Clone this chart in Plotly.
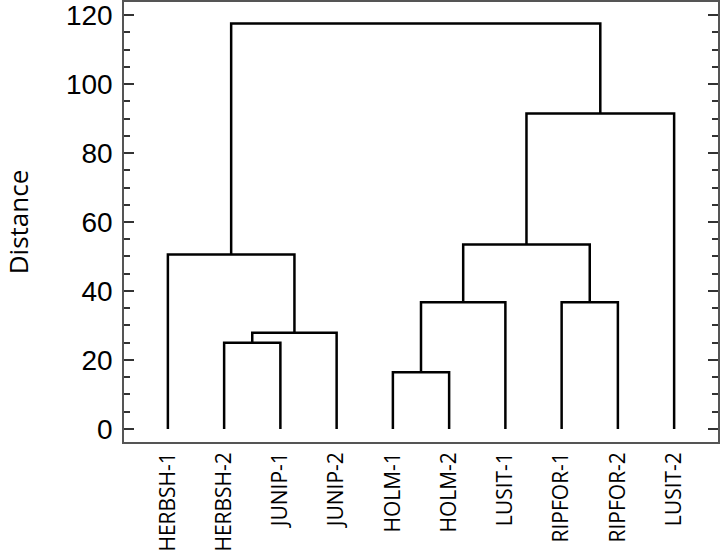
import plotly.graph_objects as go

# leaves in the order they appear along the bottom
leaves = ["HERBSH-1", "HERBSH-2", "JUNIP-1", "JUNIP-2", "HOLM-1",
          "HOLM-2", "LUSIT-1", "RIPFOR-1", "RIPFOR-2", "LUSIT-2"]

# linkage: ids < 10 are leaves, id 10+k is the k-th merge
merge_a = [4, 1, 11, 10, 7, 0, 13, 16, 15]
merge_b = [5, 2, 3, 6, 8, 12, 14, 9, 17]
merge_height = [16.4, 25.0, 27.9, 36.7, 36.7, 50.6, 53.5, 91.5, 117.6]


def dendro_lines():
    n = len(leaves)
    pos = {i: (float(i), 0.0) for i in range(n)}
    xs, ys = [], []
    for k, (a, b, h) in enumerate(zip(merge_a, merge_b, merge_height)):
        xa, ya = pos[a]
        xb, yb = pos[b]
        xs += [xa, xa, xb, xb, None]
        ys += [ya, h, h, yb, None]
        pos[n + k] = ((xa + xb) / 2, h)
    return xs, ys


xs, ys = dendro_lines()

fig = go.Figure()
fig.add_trace(go.Scatter(
    x=xs, y=ys, mode="lines",
    line=dict(color="black", width=2.5),
    hoverinfo="skip", showlegend=False,
))

fig.update_xaxes(
    range=[-0.78, 9.78],
    tickvals=list(range(len(leaves))),
    ticktext=leaves,
    tickangle=-90,
    ticks="",
    showgrid=False, zeroline=False,
    showline=True, linecolor="#555555", linewidth=1.5, mirror=True,
    tickfont=dict(family="Open Sans", size=21, color="black"),
    automargin=False,
)
fig.update_yaxes(
    range=[-3.8, 123.8],
    tickvals=[0, 20, 40, 60, 80, 100, 120],
    ticks="inside", ticklen=10, tickwidth=1.5, tickcolor="#333333",
    minor=dict(dtick=5, ticks="inside", ticklen=6, tickwidth=1.5, tickcolor="#333333"),
    showgrid=False, zeroline=False,
    showline=True, linecolor="#555555", linewidth=1.5, mirror="ticks",
    tickfont=dict(family="Liberation Sans Narrow, Arial Narrow, Liberation Sans", size=28, color="black"),
    ticklabeloverflow="allow",
    ticklabelstandoff=4,
    title=dict(text="Distance", font=dict(family="Open Sans", size=26, color="black"), standoff=33),
    automargin=False,
)

fig.update_layout(
    width=720, height=560,
    margin=dict(l=124, r=2, t=2, b=118),
    paper_bgcolor="white", plot_bgcolor="white",
)

fig.write_html("out.html", config={"displayModeBar": False},
               post_script="document.body.style.margin='0';")
